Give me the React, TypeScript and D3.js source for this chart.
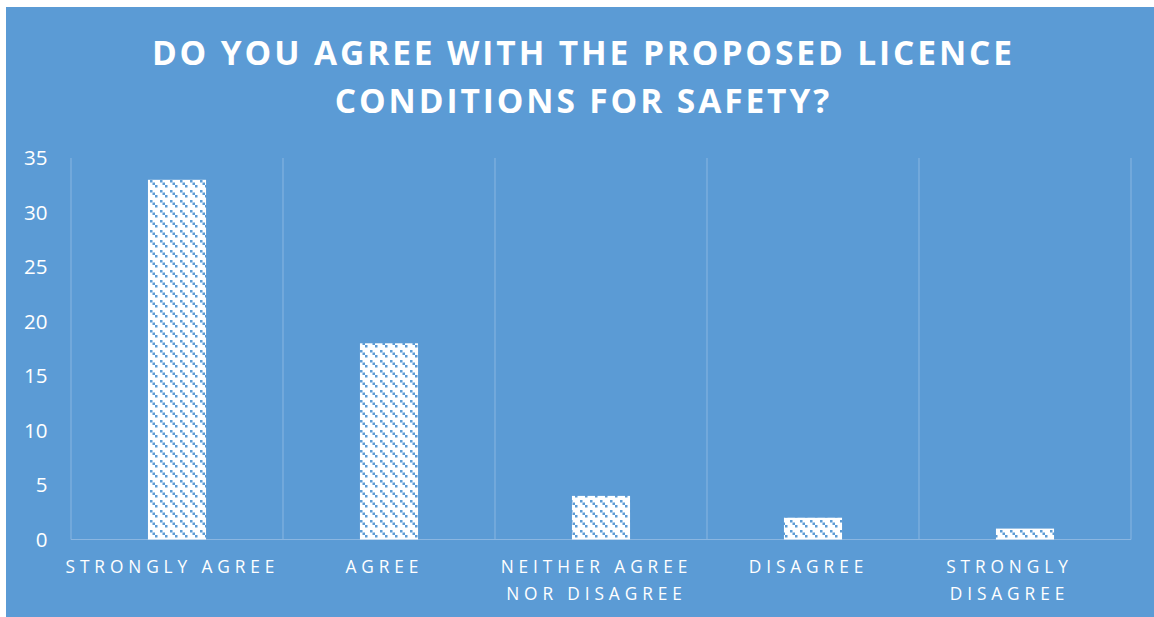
import React from "react";
import * as d3 from "d3";

const categories: string[][] = [
  ["STRONGLY AGREE"],
  ["AGREE"],
  ["NEITHER AGREE", "NOR DISAGREE"],
  ["DISAGREE"],
  ["STRONGLY", "DISAGREE"],
];
const values: number[] = [33, 18, 4, 2, 1];
const yTicks: number[] = [0, 5, 10, 15, 20, 25, 30, 35];
const titleLines: string[] = ["DO YOU AGREE WITH THE PROPOSED LICENCE", "CONDITIONS FOR SAFETY?"];

const W = 1154;
const H = 617;
const BG = "#5B9BD5";
const GRID = "#8AB6E1";
const FONT = "'Open Sans', 'DejaVu Sans', sans-serif";

export default function App() {
  const left = 71;
  const right = 1131;
  const top = 158;
  const bottom = 539.5;
  const keys = categories.map((_, i) => String(i));
  const x = d3.scaleBand<string>().domain(keys).range([left, right]).paddingInner(0.726).paddingOuter(0.363);
  const y = d3.scaleLinear().domain([0, 35]).range([bottom, top]);
  const step = x.step();
  const boundaries = d3.range(categories.length + 1).map((i) => left + i * step);
  const ls = 4.9;
  const tls = 2.9;
  const labelX = (i: number) =>
    (x(String(i)) as number) + x.bandwidth() / 2 - 7 + ls / 2 - (i === categories.length - 1 ? 11 : 0);

  return (
    <div style={{ position: "fixed", left: 0, top: 0 }}>
      <svg width={W} height={H} style={{ display: "block" }}>
        <defs>
          <pattern id="dashDn" width={10} height={10} patternUnits="userSpaceOnUse">
            <rect width={10} height={10} fill="#ffffff" />
            <rect x={0} y={0} width={2.5} height={2.5} fill={BG} />
            <rect x={2.5} y={2.5} width={2.5} height={2.5} fill={BG} />
            <rect x={5} y={5} width={2.5} height={2.5} fill={BG} />
          </pattern>
        </defs>
        <rect x={0} y={0} width={W} height={H} fill="#ffffff" />
        <rect x={6} y={7} width={W - 6} height={H - 7} fill={BG} />
        {titleLines.map((t, i) => (
          <text
            key={t}
            x={582 + tls / 2}
            y={65 + i * 48}
            textAnchor="middle"
            fill="#ffffff"
            fontFamily={FONT}
            fontWeight={700}
            fontSize={33.5}
            letterSpacing={tls}
          >
            {t}
          </text>
        ))}
        {boundaries.map((bx, i) => (
          <line key={"g" + i} x1={bx} x2={bx} y1={top} y2={bottom} stroke={GRID} strokeWidth={1} />
        ))}
        <line x1={left} x2={right} y1={bottom} y2={bottom} stroke={GRID} strokeWidth={1} />
        {values.map((v, i) => (
          <rect
            key={"b" + i}
            x={x(String(i))}
            y={y(v)}
            width={x.bandwidth()}
            height={y(0) - y(v)}
            fill="url(#dashDn)"
          />
        ))}
        {yTicks.map((t) => (
          <text
            key={"y" + t}
            x={47.5}
            y={y(t)}
            dy="0.36em"
            textAnchor="end"
            fill="#ffffff"
            fontFamily={FONT}
            fontSize={20.5}
          >
            {t}
          </text>
        ))}
        {categories.map((lines, i) => (
          <text
            key={"x" + i}
            x={labelX(i)}
            y={573}
            textAnchor="middle"
            fill="#ffffff"
            fontFamily={FONT}
            fontSize={17.3}
            letterSpacing={ls}
          >
            {lines.map((l, j) => (
              <tspan key={j} x={labelX(i)} dy={j === 0 ? 0 : 26.5}>
                {l}
              </tspan>
            ))}
          </text>
        ))}
      </svg>
    </div>
  );
}
